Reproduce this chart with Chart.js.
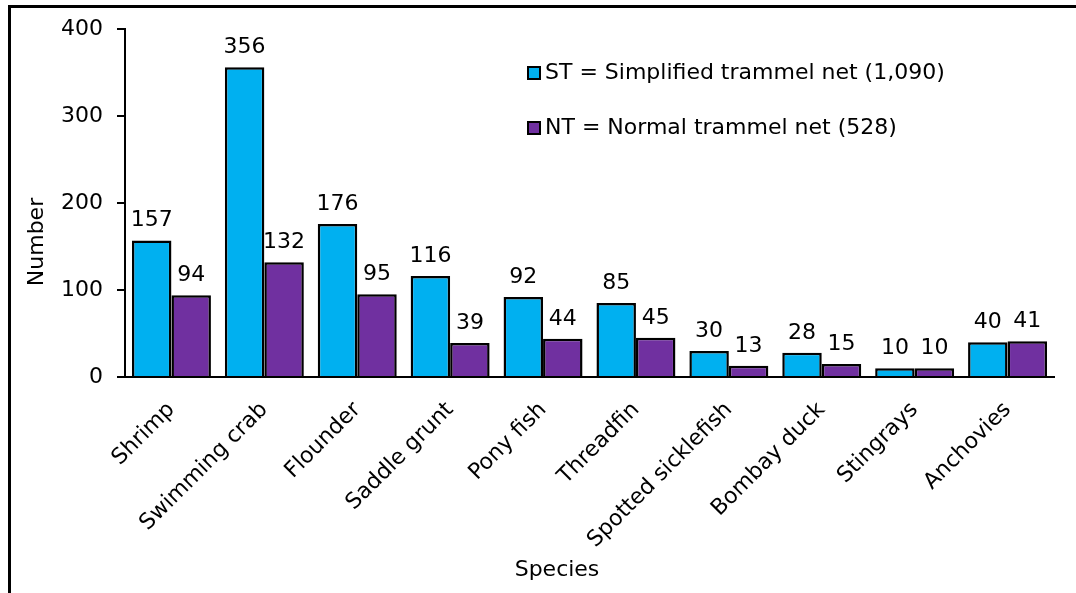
<!DOCTYPE html>
<html>
<head>
<meta charset="utf-8">
<script src="https://cdn.jsdelivr.net/npm/chart.js@4.4.1/dist/chart.umd.min.js"></script>
<style>
  body { margin: 0; background: #fff; }
  #wrap { position: relative; width: 1076px; height: 593px; }
  #frame { position: absolute; left: 8px; top: 5px; right: 0; bottom: 0;
           border-left: 3px solid #000; border-top: 3px solid #000; pointer-events: none; }
</style>
</head>
<body>
<div id="wrap">
  <canvas id="myChart" width="1076" height="593"></canvas>
  <div id="frame"></div>
</div>
<script>
const species = ['Shrimp', 'Swimming crab', 'Flounder', 'Saddle grunt', 'Pony fish',
  'Threadfin', 'Spotted sicklefish', 'Bombay duck', 'Stingrays', 'Anchovies']
const stValues = [157, 356, 176, 116, 92, 85, 30, 28, 10, 40]
const ntValues = [94, 132, 95, 39, 44, 45, 13, 15, 10, 41]
const yTicks = [0, 100, 200, 300, 400]

const fontFam = '"DejaVu Sans", Verdana, sans-serif'
const txt = '#000'
const fs = 22

// numbers above each bar
const barLabels = {
  id: 'barLabels',
  afterDatasetsDraw(chart) {
    const c = chart.ctx
    c.save()
    c.font = fs + 'px ' + fontFam
    c.fillStyle = txt
    c.textAlign = 'center'
    c.textBaseline = 'alphabetic'
    chart.data.datasets.forEach((ds, i) => {
      chart.getDatasetMeta(i).data.forEach((bar, j) => {
        c.fillText(ds.data[j], bar.x, bar.y - 14)
      })
    })
    c.restore()
  }
}

// legend inside the plot + axis titles
const extras = {
  id: 'extras',
  afterDraw(chart) {
    const c = chart.ctx
    const a = chart.chartArea
    c.save()
    c.font = fs + 'px ' + fontFam
    c.textBaseline = 'middle'
    chart.data.datasets.forEach((ds, i) => {
      const x = a.left + 403
      const y = a.top + 44 + i * 55
      c.fillStyle = ds.backgroundColor
      c.fillRect(x, y - 6, 12, 12)
      c.strokeStyle = '#000'
      c.lineWidth = 2
      c.strokeRect(x, y - 6, 12, 12)
      c.fillStyle = txt
      c.textAlign = 'left'
      c.fillText(ds.label, x + 17, y)
    })
    c.textAlign = 'center'
    c.fillText('Species', 557, 570)
    c.translate(37, 242)
    c.rotate(-Math.PI / 2)
    c.fillText('Number', 0, 0)
    c.restore()
  }
}

const ctx = document.getElementById('myChart').getContext('2d')
const myChart = new Chart(ctx, {
  type: 'bar',
  data: {
    labels: species,
    datasets: [{
      label: 'ST = Simplified trammel net (1,090)',
      data: stValues,
      backgroundColor: '#00B0F0',
      borderColor: '#000',
      borderWidth: 2.5,
      borderSkipped: 'bottom'
    }, {
      label: 'NT = Normal trammel net (528)',
      data: ntValues,
      backgroundColor: '#7030A0',
      borderColor: '#000',
      borderWidth: 2.5,
      borderSkipped: 'bottom'
    }]
  },
  options: {
    responsive: false,
    animation: false,
    layout: { padding: { left: 0, right: 22, top: 29, bottom: 0 } },
    plugins: {
      legend: { display: false },
      tooltip: { enabled: false }
    },
    datasets: { bar: { barPercentage: 1, categoryPercentage: 0.85 } },
    scales: {
      x: {
        grid: { display: false },
        border: { color: '#000', width: 2 },
        ticks: {
          color: txt,
          font: { family: fontFam, size: fs },
          maxRotation: 45, minRotation: 45,
          padding: 12
        },
        afterFit(scale) { scale.height = 216 }
      },
      y: {
        min: 0, max: 400,
        afterBuildTicks(scale) { scale.ticks = yTicks.map(v => ({ value: v })) },
        grid: { drawOnChartArea: false, color: '#000', tickLength: 8, lineWidth: 2 },
        border: { color: '#000', width: 2 },
        ticks: {
          color: txt,
          font: { family: fontFam, size: fs },
          padding: 14
        },
        afterFit(scale) { scale.width = 125 }
      }
    }
  },
  plugins: [barLabels, extras]
})
</script>
</body>
</html>
